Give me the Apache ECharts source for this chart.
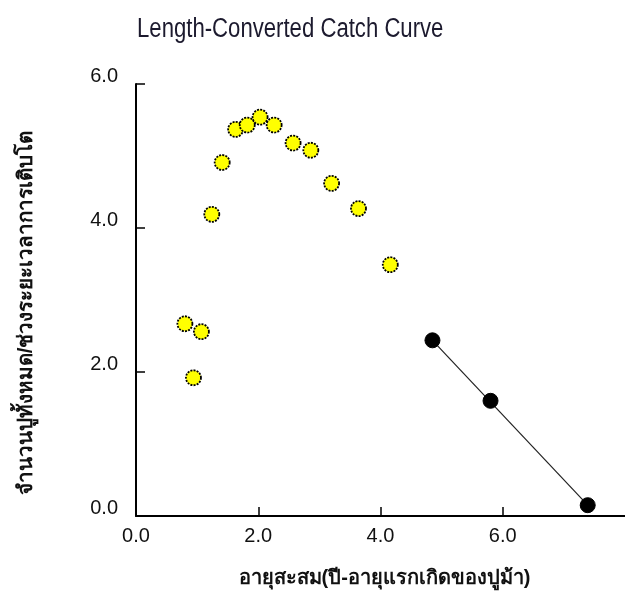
<!DOCTYPE html>
<html>
<head>
<meta charset="utf-8">
<script src="https://cdn.jsdelivr.net/npm/echarts@6/dist/echarts.min.js"></script>
<style>
html,body{margin:0;padding:0;background:#fff;}
#chart{width:625px;height:594px;}
</style>
</head>
<body>
<div id="chart"></div>
<script>
// ---- data ----
const titleText = 'Length-Converted Catch Curve';
const xName = 'อายุสะสม(ปี-อายุแรกเกิดของปูม้า)';
const yName = 'จำนวนปูทั้งหมด/ช่วงระยะเวลาการเติบโต';
const youngX = [0.80, 0.94, 1.07, 1.24, 1.41, 1.63, 1.82, 2.03, 2.26, 2.57, 2.86, 3.20, 3.64, 4.16];
const youngY = [2.67, 1.92, 2.56, 4.19, 4.91, 5.37, 5.43, 5.54, 5.43, 5.18, 5.08, 4.62, 4.27, 3.49];
const fitPtsX = [4.85, 5.80, 7.39];
const fitPtsY = [2.44, 1.60, 0.15];
const lineX = [4.85, 7.39];
const lineY = [2.44, 0.15];
const xTicks = [0, 2, 4, 6];
const yTicks = [0, 2, 4, 6];

const zip = (a, b) => a.map((v, i) => [v, b[i]]);
const chart = echarts.init(document.getElementById('chart'), null, {renderer: 'canvas'});
const txt = '#111111';
chart.setOption({
  backgroundColor: '#ffffff',
  animation: false,
  graphic: [{
    type: 'text', x: 137, y: 16, scaleX: 0.82, scaleY: 1,
    style: {
      text: titleText, fill: '#1c1a2e',
      font: 'normal 27px "Liberation Sans", Arial, sans-serif',
      textAlign: 'left', textVerticalAlign: 'top'
    }
  }],
  grid: {left: 136, right: -3, top: 84, bottom: 78, containLabel: false},
  xAxis: {
    type: 'value', min: 0, max: 8, interval: 2,
    name: xName, nameLocation: 'middle', nameGap: 52,
    nameTextStyle: {fontFamily: '"Liberation Sans", Arial, sans-serif', fontSize: 20, fontWeight: 'bold', color: txt, padding: [0, 0, 0, 8]},
    axisLine: {show: true, lineStyle: {color: '#000', width: 2}},
    axisTick: {show: true, inside: true, length: 9, lineStyle: {color: '#000', width: 1.5}},
    axisLabel: {showMaxLabel: false, margin: 10, fontFamily: '"Liberation Sans", Arial, sans-serif', fontSize: 20, color: txt,
      formatter: v => xTicks.indexOf(v) >= 0 ? v.toFixed(1) : ''},
    splitLine: {show: false}
  },
  yAxis: {
    type: 'value', min: 0, max: 6, interval: 2,
    name: yName, nameLocation: 'middle', nameGap: 99,
    nameTextStyle: {fontFamily: '"Liberation Sans", Arial, sans-serif', fontSize: 20.5, fontWeight: 'bold', color: txt, padding: [0, 26, 0, 0]},
    axisLine: {show: true, lineStyle: {color: '#000', width: 2}},
    axisTick: {show: true, inside: true, length: 9, lineStyle: {color: '#000', width: 1.5}},
    axisLabel: {margin: 18, fontFamily: '"Liberation Sans", Arial, sans-serif', fontSize: 20, color: txt,
      verticalAlign: 'bottom', lineHeight: 15,
      formatter: v => yTicks.indexOf(v) >= 0 ? v.toFixed(1) : ''},
    splitLine: {show: false}
  },
  series: [
    {
      type: 'line', data: zip(lineX, lineY), symbol: 'none',
      lineStyle: {color: '#222', width: 1.2}, z: 1
    },
    {
      type: 'scatter', data: zip(youngX, youngY), symbol: 'circle', symbolSize: 15,
      itemStyle: {color: '#ffff00', opacity: 1, borderColor: '#000', borderWidth: 1.8, borderType: [2, 1.2]}, z: 3
    },
    {
      type: 'scatter', data: zip(fitPtsX, fitPtsY), symbol: 'circle', symbolSize: 15,
      itemStyle: {color: '#000', opacity: 1, borderColor: '#000', borderWidth: 1}, z: 3
    }
  ]
});
</script>
</body>
</html>
